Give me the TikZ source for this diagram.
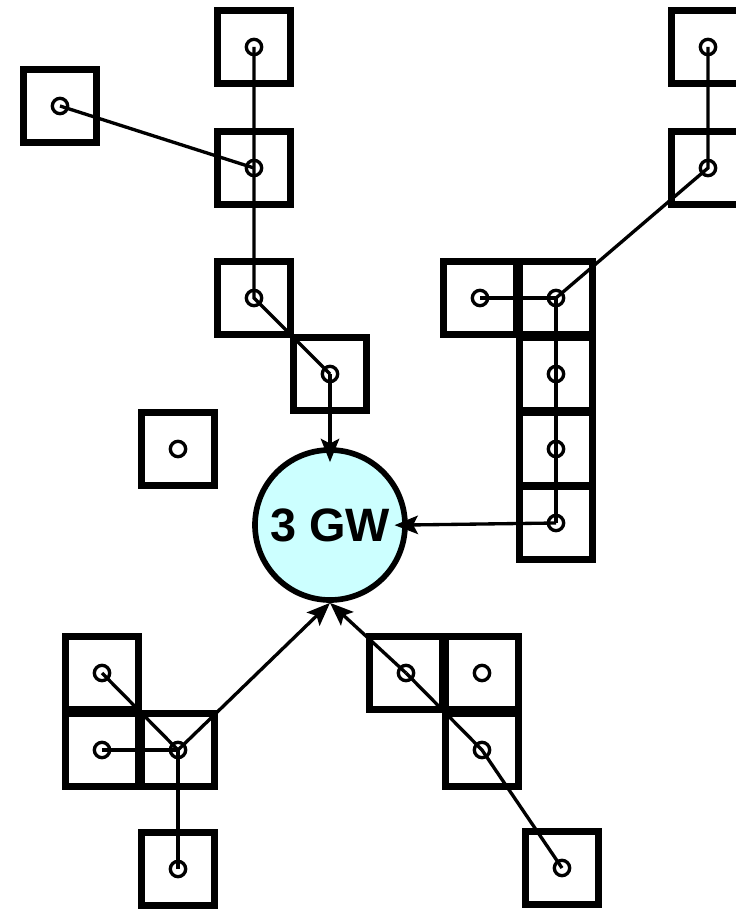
\documentclass[tikz,border=0pt]{standalone}
\usepackage{fontspec}
\setmainfont{Liberation Sans}
\usetikzlibrary{arrows.meta}
\definecolor{gwcyan}{RGB}{204,255,255}

\begin{document}
\begin{tikzpicture}[x=.03cm,y=-.03cm,
  cell/.style={draw,line width=.2cm,minimum size=2.2cm,inner sep=0pt},
  dot/.style={circle,draw,line width=.1cm,minimum size=.46cm,inner sep=0pt},
  link/.style={line width=.1cm},
  feed/.style={link,-{Stealth[length=.7cm,width=.55cm,inset=.14cm]}}]
  \useasboundingbox (0,0) rectangle (735,909);
  % cells with their turbines
  \foreach \n/\x/\y in {t1/254/47,l1/60/106,t2/254/168,t3/254/298,t4/330/374,
      lone/178/449,r1/708/47,r2/708/168,m1/480/298,m2/556/298,m3/556/374,
      m4/556/449,m5/556/523,a1/102/673,a2/102/750,a3/178/750,a4/178/869,
      b1/406/673,b2/482/673,b3/482/750,b4/562/868}{
    \node[cell] (c\n) at (\x,\y) {};
    \node[dot] (\n) at (\x,\y) {};
  }
  \node[circle,draw,line width=.17cm,fill=gwcyan,minimum size=4.5cm,inner sep=0pt,
    font=\bfseries\fontsize{40}{48}\selectfont] (gw) at (330,525) {3 GW};
  % upper left string
  \draw[link] (t1.center) -- (t3.center) -- (t4.center);
  \draw[link] (l1.center) -- (t2.center);
  \draw[feed,shorten >=-.45cm] (t4.center) -- (gw.north);
  % right string
  \draw[link] (r1.center) -- (r2.center) -- (m2.center);
  \draw[link] (m1.center) -- (m2.center) -- (m5.center);
  \draw[feed,shorten >=-.4cm] (m5.center) -- (gw.east);
  % lower strings
  \draw[link] (a1.center) -- (a3.center);
  \draw[link] (a2.center) -- (a3.center);
  \draw[link] (a4.center) -- (a3.center);
  \draw[feed] (a3.center) -- (gw.south);
  \draw[link] (b4.center) -- (b3.center) -- (b1.center);
  \draw[feed] (b1.center) -- (gw.south);
\end{tikzpicture}
\end{document}
